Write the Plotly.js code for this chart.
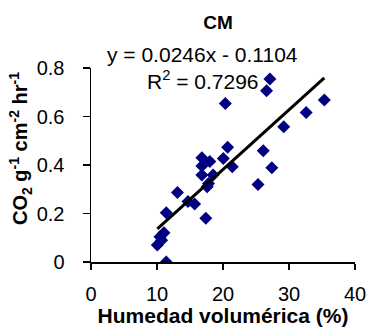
<!DOCTYPE html>
<html>
<head>
<meta charset="utf-8">
<script src="https://cdn.plot.ly/plotly-3.0.1.min.js"></script>
<style>html,body{margin:0;padding:0;background:#fff;}#chart{width:369px;height:333px;}</style>
</head>
<body>
<div id="chart"></div>
<script>
// Data
var humedad = [27.1, 26.6, 20.35, 35.35, 32.6, 29.2, 20.7, 26.1, 20.05, 16.8, 18.0, 16.8, 21.4, 27.4, 18.5, 16.8, 17.8, 17.6, 25.3, 13.1, 14.7, 15.7, 17.4, 11.4, 11.05, 10.45, 10.7, 10.05, 11.4];
var co2 = [0.755, 0.706, 0.654, 0.668, 0.616, 0.558, 0.473, 0.459, 0.427, 0.430, 0.414, 0.396, 0.393, 0.389, 0.359, 0.359, 0.324, 0.310, 0.320, 0.287, 0.249, 0.239, 0.180, 0.203, 0.121, 0.104, 0.090, 0.070, 0.0];
var slope = 0.0246;
var intercept = -0.1104;
var r2 = 0.7296;
var xTicks = [0, 10, 20, 30, 40];
var yTicks = [0, 0.2, 0.4, 0.6, 0.8];
var yTickLabels = ["0", "0.2", "0.4", "0.6", "0.8"];

var xMin = Math.min.apply(null, humedad);
var xMax = Math.max.apply(null, humedad);
var trendX = [xMin, xMax];
var trendY = trendX.map(function (x) { return slope * x + intercept; });

var font = "Liberation Sans, Arial, sans-serif";

var traces = [
  {
    x: humedad, y: co2, type: 'scatter', mode: 'markers',
    marker: {symbol: 'diamond', size: 10, color: '#000080', line: {width: 0}},
    showlegend: false, hoverinfo: 'skip'
  },
  {
    x: trendX, y: trendY, type: 'scatter', mode: 'lines',
    line: {color: '#000000', width: 3},
    showlegend: false, hoverinfo: 'skip'
  }
];

var layout = {
  width: 369, height: 333,
  margin: {l: 91, r: 14, t: 68, b: 71, pad: 0},
  paper_bgcolor: '#ffffff', plot_bgcolor: '#ffffff',
  font: {family: font, color: '#000000', size: 20},
  title: {text: '<b>CM</b>', font: {family: font, size: 19, color: '#000'}, x: 218 / 369, xanchor: 'center', y: 1 - 22 / 333, yanchor: 'middle'},
  xaxis: {
    range: [0, 40], tickvals: xTicks, ticktext: xTicks.map(String),
    showgrid: false, zeroline: false, showline: true, linecolor: '#000', linewidth: 1.5,
    ticks: 'outside', ticklen: 6, tickwidth: 1.5, tickcolor: '#000',
    tickfont: {family: font, size: 20, color: '#000'}, ticklabelstandoff: 7,
    title: {text: '<b>Humedad volumérica (%)</b>', font: {family: font, size: 21, color: '#000'}, standoff: 3},
    fixedrange: true
  },
  yaxis: {
    range: [0, 0.8], tickvals: yTicks, ticktext: yTickLabels,
    showgrid: false, zeroline: false, showline: true, linecolor: '#000', linewidth: 1.5,
    ticks: 'outside', ticklen: 7, tickwidth: 1.5, tickcolor: '#000',
    tickfont: {family: font, size: 20, color: '#000'}, ticklabelstandoff: 14,
    fixedrange: true
  },
  annotations: [
    {text: 'y = ' + slope.toFixed(4) + 'x - ' + Math.abs(intercept).toFixed(4), xref: 'paper', yref: 'paper',
     x: (202.5 - 91) / 264, y: (262 - 54) / 194, xanchor: 'center', yanchor: 'middle', showarrow: false,
     font: {family: font, size: 21, color: '#000'}},
    {text: 'R<sup>2</sup> = ' + r2.toFixed(4), xref: 'paper', yref: 'paper',
     x: (202.5 - 91) / 264, y: (262 - 80) / 194, xanchor: 'center', yanchor: 'middle', showarrow: false,
     font: {family: font, size: 21, color: '#000'}},
    {text: '<b>CO<sub>2</sub> g<sup>-1</sup> cm<sup>-2</sup> hr<sup>-1</sup></b>', xref: 'paper', yref: 'paper',
     x: (20 - 91) / 264, y: (262 - 149) / 194, xanchor: 'center', yanchor: 'middle', showarrow: false,
     textangle: -90, font: {family: font, size: 20, color: '#000'}}
  ]
};

Plotly.newPlot('chart', traces, layout, {staticPlot: true, displayModeBar: false});
</script>
</body>
</html>
